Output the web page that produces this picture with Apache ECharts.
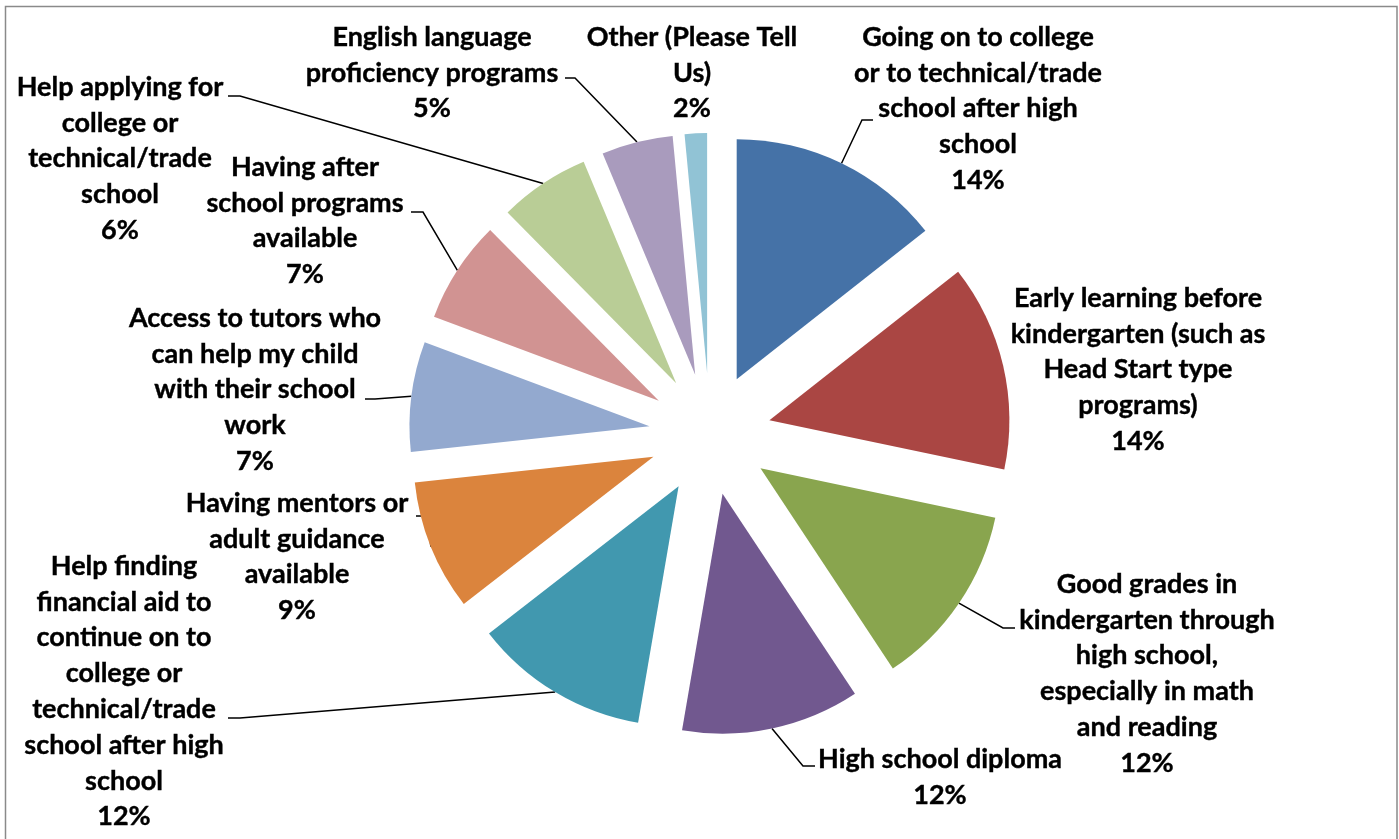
<!DOCTYPE html>
<html><head><meta charset="utf-8">
<script src="https://cdn.jsdelivr.net/npm/echarts@6/dist/echarts.min.js"></script>
<style>html,body{margin:0;padding:0;background:#fff;overflow:hidden}#c{width:1399px;height:839px}</style>
</head><body><div id="c"></div>
<script>
// ---- data ----
const categories = [
  "Going on to college\nor to technical/trade\nschool after high\nschool",
  "Early learning before\nkindergarten (such as\nHead Start type\nprograms)",
  "Good grades in\nkindergarten through\nhigh school,\nespecially in math\nand reading",
  "High school diploma",
  "Help finding\nfinancial aid to\ncontinue on to\ncollege or\ntechnical/trade\nschool after high\nschool",
  "Having mentors or\nadult guidance\navailable",
  "Access to tutors who\ncan help my child\nwith their school\nwork",
  "Having after\nschool programs\navailable",
  "Help applying for\ncollege or\ntechnical/trade\nschool",
  "English language\nproficiency programs",
  "Other (Please Tell\nUs)"
];
const values = [14.4, 13.9, 12.4, 12.0, 11.8, 8.8, 7.4, 6.9, 6.1, 4.8, 1.5];
const colors = ["#4572A7","#AA4643","#89A54E","#71588F","#4198AF","#DB843D","#93A9CF","#D19392","#B9CD96","#A99BBD","#91C3D5"];

// ---- layout ----
const CX = 710, CY = 434, R = 240, OFFSET = 61, LH = 35.8, FS = 27;
const labelAnchors = [[978,37],[1138,298],[1147,584],[940,759],[124,566],[297,503],[255,318],[305,167],[120,87],[432,37],[692,37]];
const leaderBends = [
  [[862,120],[873,120]], null, [[1003,628],[1015,628]], [[803,766],[815,766]],
  [[240,718],[228,718]], [[428,516],[416,516]], [[375,399],[365,399]],
  [[423,212],[411,212]], [[240,96],[228,96]], [[575,78],[565,78]], null
];

const total = values.reduce((a,b)=>a+b,0);
function midAngle(i){ // radians clockwise from 12 o'clock
  let s = 0; for (let k=0;k<i;k++) s += values[k];
  return (s + values[i]/2) / total * Math.PI * 2;
}

const chart = echarts.init(document.getElementById('c'), null, {renderer:'canvas'});
chart.setOption({
  animation: false,
  color: colors,
  graphic: [{
    type: 'rect', silent: true,
    shape: {x: 5.5, y: 6.5, width: 1391.5, height: 845},
    style: {fill: 'none', stroke: '#8a8a8a', lineWidth: 1.5}
  }],
  series: [{
    // exploded slices
    type: 'pie',
    center: [CX, CY],
    radius: [0, R],
    startAngle: 90,
    clockwise: true,
    selectedMode: 'multiple',
    selectedOffset: OFFSET,
    emphasis: {disabled: true},
    itemStyle: {borderWidth: 0},
    label: {show: false},
    labelLine: {show: false},
    data: categories.map((c, i) => ({name: c, value: values[i], selected: true}))
  }, {
    // labels + leader lines (transparent slices)
    type: 'pie',
    silent: true,
    center: [CX, CY],
    radius: [0, R],
    startAngle: 90,
    clockwise: true,
    avoidLabelOverlap: false,
    selectedMode: false,
    emphasis: {disabled: true},
    itemStyle: {color: 'rgba(0,0,0,0)', borderWidth: 0},
    label: {
      show: true,
      formatter: p => p.name + '\n' + Math.round(p.value) + '%',
      fontFamily: 'Lato',
      fontWeight: 'bold',
      fontSize: FS,
      lineHeight: LH,
      color: '#000',
      textBorderColor: '#000',
      textBorderWidth: 0.4,
      align: 'center'
    },
    labelLine: {show: true, lineStyle: {color: '#000', width: 1.5}, smooth: false},
    labelLayout: function (params) {
      const i = params.dataIndex;
      const a = labelAnchors[i];
      const out = {x: a[0], y: a[1] - LH/2, align: 'center', verticalAlign: 'top'};
      const b = leaderBends[i];
      if (b) {
        const ang = midAngle(i);
        const d = R + OFFSET;
        const p0 = [CX + Math.sin(ang)*d, CY - Math.cos(ang)*d];
        out.labelLinePoints = [p0, b[0], b[1]];
      }
      return out;
    },
    data: categories.map((c, i) => ({
      name: c, value: values[i],
      labelLine: {show: !!leaderBends[i]}
    }))
  }]
});
</script></body></html>
